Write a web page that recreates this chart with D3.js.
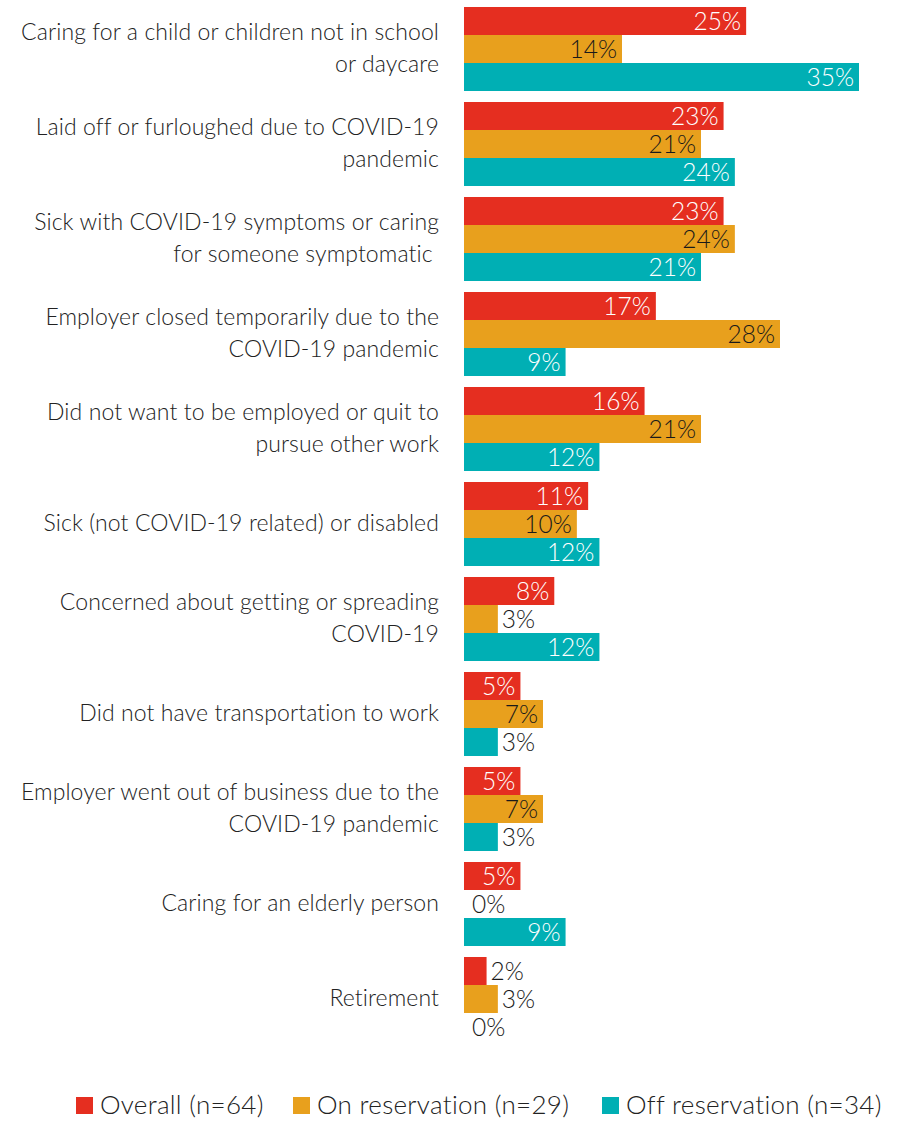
<!DOCTYPE html>
<html>
<head>
<meta charset="utf-8">
<script src="https://cdn.jsdelivr.net/npm/d3@7"></script>
<style>
  body { margin: 0; background: #fff; }
  svg { display: block; font-family: Lato, "Open Sans", sans-serif; }
</style>
</head>
<body>
<svg id="chart" width="905" height="1121"></svg>
<script>
// Reasons for not working, by residence
const categories = [
  ["Caring for a child or children not in school", "or daycare"],
  ["Laid off or furloughed due to COVID-19", "pandemic"],
  ["Sick with COVID-19 symptoms or caring", "for someone symptomatic "],
  ["Employer closed temporarily due to the", "COVID-19 pandemic"],
  ["Did not want to be employed or quit to", "pursue other work"],
  ["Sick (not COVID-19 related) or disabled"],
  ["Concerned about getting or spreading", "COVID-19"],
  ["Did not have transportation to work"],
  ["Employer went out of business due to the", "COVID-19 pandemic"],
  ["Caring for an elderly person"],
  ["Retirement"]
];
const seriesNames = ["Overall (n=64)", "On reservation (n=29)", "Off reservation (n=34)"];
const overall      = [25, 23, 23, 17, 16, 11, 8, 5, 5, 5, 2];
const onRes        = [14, 21, 24, 28, 21, 10, 3, 7, 7, 0, 3];
const offRes       = [35, 24, 21, 9, 12, 12, 12, 3, 3, 9, 0];
const seriesValues = [overall, onRes, offRes];

const colors = ["#E52E20", "#E8A01D", "#00AFB4"];
const insideText = ["#ffffff", "#1a1a1a", "#ffffff"];
const outsideText = "#1a1a1a";

const svg = d3.select("#chart");

const x = d3.scaleLinear().domain([0, 35]).range([464, 859]);
const yGroup = d3.scaleBand()
  .domain(d3.range(categories.length))
  .range([7, 1041])
  .paddingInner(11 / 95)
  .paddingOuter(0);
const ySeries = d3.scaleBand()
  .domain(d3.range(3))
  .range([0, yGroup.bandwidth()]);

const rows = categories.map((c, i) => ({ i, label: c }));

const group = svg.selectAll("g.group")
  .data(rows)
  .join("g")
  .attr("class", "group")
  .attr("transform", d => `translate(0,${yGroup(d.i)})`);

// category labels, right aligned against the bars
group.append("text")
  .attr("text-anchor", "end")
  .attr("font-size", 23)
  .attr("font-weight", 300)
  .attr("letter-spacing", 0.1)
  .attr("fill", "#222")
  .style("white-space", "pre")
  .each(function(d) {
    const t = d3.select(this);
    const n = d.label.length;
    const cy = yGroup.bandwidth() / 2;
    d.label.forEach((line, k) => {
      t.append("tspan")
        .attr("x", 439)
        .attr("y", cy + (k - (n - 1) / 2) * 32 + 7)
        .text(line);
    });
  });

// bars and value labels
group.each(function(d) {
  const g = d3.select(this);
  seriesValues.forEach((vals, s) => {
    const v = vals[d.i];
    const y0 = ySeries(s);
    const h = ySeries.bandwidth();
    if (v > 0) {
      g.append("rect")
        .attr("x", x(0))
        .attr("y", y0)
        .attr("width", x(v) - x(0))
        .attr("height", h)
        .attr("fill", colors[s]);
    }
    const inside = v >= 5;
    g.append("text")
      .attr("x", inside ? x(v) - 5 : x(v) + 4 + (v === 0 ? 4 : 0))
      .attr("y", y0 + h / 2 + 8.5)
      .attr("text-anchor", inside ? "end" : "start")
      .attr("font-size", 24.5)
      .attr("font-weight", 300)
      .attr("fill", inside ? insideText[s] : outsideText)
      .text(v + "%");
  });
});

// legend
const legendX = [76, 293, 602];
const legend = svg.selectAll("g.legend")
  .data(seriesNames)
  .join("g")
  .attr("class", "legend")
  .attr("transform", (d, i) => `translate(${legendX[i]},1097)`);
legend.append("rect")
  .attr("width", 17).attr("height", 17)
  .attr("fill", (d, i) => colors[i]);
legend.append("text")
  .attr("x", 24).attr("y", 17)
  .attr("font-size", 26)
  .attr("font-weight", 300)
  .attr("letter-spacing", 0.3)
  .attr("fill", "#222")
  .text(d => d);
</script>
</body>
</html>
